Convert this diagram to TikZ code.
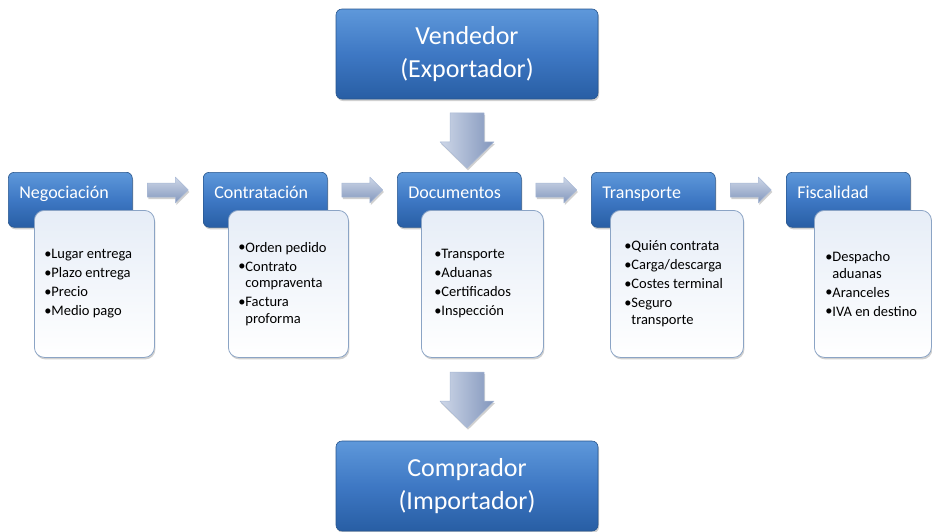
\documentclass[tikz,border=0pt]{standalone}
\usepackage{fontspec}
\setmainfont{Carlito}
\usetikzlibrary{calc,positioning,shadows}

\definecolor{azulA}{RGB}{94,152,218}
\definecolor{azulB}{RGB}{62,120,196}
\definecolor{azulC}{RGB}{40,94,164}
\definecolor{azulBorde}{RGB}{40,86,142}
\definecolor{grisA}{RGB}{230,237,247}
\definecolor{grisBorde}{RGB}{139,164,197}
\definecolor{flechaA}{RGB}{206,215,232}
\definecolor{flechaB}{RGB}{130,150,188}
\definecolor{flechaBorde}{RGB}{170,186,214}

\newcommand{\itm}[1]{\makebox[7pt][l]{\raisebox{.3pt}{\Large•}}#1}
\newcommand{\sig}{\hspace*{7pt}}

\begin{document}
\begin{tikzpicture}[x=1pt,y=-1pt,
	sombra/.style={drop shadow={shadow xshift=1pt,shadow yshift=-2pt,opacity=.3,fill=black!60}},
	bloque/.style={rounded corners=6pt,draw=azulBorde,line width=.6pt,
			top color=azulA,bottom color=azulC,middle color=azulB,text=white,sombra},
	grande/.style={bloque,minimum width=262pt,minimum height=90pt,align=center,
			font=\fontsize{26}{33}\selectfont},
	titulo/.style={bloque,anchor=north west,inner xsep=11pt,inner ysep=8pt,text width=102pt,
			text height=18pt,text depth=21pt,align=flush left,font=\fontsize{18}{21}\selectfont},
	lista/.style={rounded corners=10pt,draw=grisBorde,line width=.8pt,top color=grisA,
			bottom color=white,anchor=north west,minimum height=147pt,align=flush left,
			font=\fontsize{14.5}{16.5}\selectfont,sombra},
	flecha/.style={draw=flechaBorde,line width=.5pt,line join=round,sombra},
	flechader/.pic={
			\path[flecha,top color=flechaA,bottom color=flechaB]
			(-20.5,-7) -- (7.5,-7) -- (7.5,-13) -- (20.5,0) -- (7.5,13) -- (7.5,7) -- (-20.5,7) -- cycle;
		},
	flechabaja/.pic={
			\path[flecha,left color=flechaA,right color=flechaB]
			(-17,-27.5) -- (17,-27.5) -- (17,1.5) -- (27,1.5) -- (0,28) -- (-27,1.5) -- (-17,1.5) -- cycle;
		}
	]

	\path[fill=white,use as bounding box] (0,0) rectangle (932,531);

	\node[grande] (vend) at (467,54) {Vendedor\\(Exportador)};
	\node[grande] (comp) at (467,486) {Comprador\\(Importador)};

	\foreach \x/\t [count=\i] in {8/Negociación,203/Contratación,397/Documentos,591/Transporte,786/Fiscalidad} {
			\node[titulo] (h\i) at (\x,172) {\t};
		}

	\node[lista,inner xsep=10pt,text width=100pt] (c1) at (34,210)
	{\itm{Lugar entrega}\\[2.5pt]\itm{Plazo entrega}\\[2.5pt]\itm{Precio}\\[2.5pt]\itm{Medio pago}};
	\node[lista,inner xsep=10pt,text width=100pt] (c2) at (228,210)
	{\itm{Orden pedido}\\[2.5pt]\itm{Contrato}\\\sig compraventa\\[2.5pt]\itm{Factura}\\\sig proforma};
	\node[lista,inner xsep=13pt,text width=96pt] (c3) at (421,210)
	{\itm{Transporte}\\[2.5pt]\itm{Aduanas}\\[2.5pt]\itm{Certificados}\\[2.5pt]\itm{Inspección}};
	\node[lista,inner xsep=14pt,text width=105pt] (c4) at (610,210)
	{\itm{Quién contrata}\\[2.5pt]\itm{Carga/descarga}\\[2.5pt]\itm{Costes terminal}\\[2.5pt]\itm{Seguro}\\\sig transporte};
	\node[lista,inner xsep=11pt,text width=95pt] (c5) at (814,210)
	{\itm{Despacho}\\\sig aduanas\\[2.5pt]\itm{Aranceles}\\[2.5pt]\itm{IVA en destino}};

	\foreach \i [count=\j from 2] in {1,2,3,4} {
			\pic (a\i) at ($(h\i.north east)!0.5!(h\j.north west)+(0,18)$) {flechader};
		}

	\pic (b1) at ($(vend.south)+(0,41)$) {flechabaja};
	\pic (b2) at ($(comp.north)+(0,-41)$) {flechabaja};

\end{tikzpicture}
\end{document}
